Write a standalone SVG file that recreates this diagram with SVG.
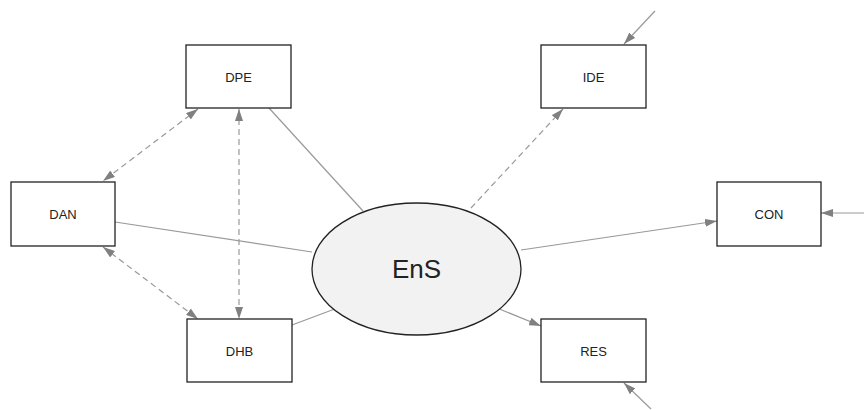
<svg xmlns="http://www.w3.org/2000/svg" width="864" height="410" viewBox="0 0 864 410">
<style>
.box{fill:#fff;stroke:#222;stroke-width:1.3}
.lbl{font-family:"Liberation Sans",Arial,sans-serif;font-size:13px;fill:#222;text-anchor:middle;dominant-baseline:central}
.e{stroke:#999;stroke-width:1.2;fill:none}
.d{stroke-dasharray:6,4}
</style>
<defs>
<marker id="ah" viewBox="0 0 12 8" refX="12" refY="4" markerWidth="12" markerHeight="8" markerUnits="userSpaceOnUse" orient="auto-start-reverse">
<path d="M0,0 L12,4 L0,8 Z" fill="#808080"/>
</marker>
</defs>
<rect width="864" height="410" fill="#fff"/>
<g id="connectors">
<line class="e" x1="269" y1="108" x2="363" y2="211"/>
<line class="e" x1="115" y1="222" x2="312" y2="252"/>
<line class="e" x1="292" y1="325" x2="340" y2="307"/>
<line class="e d" x1="471" y1="208" x2="563" y2="109" marker-end="url(#ah)"/>
<line class="e" x1="521" y1="250" x2="717" y2="221" marker-end="url(#ah)"/>
<line class="e" x1="497" y1="308" x2="541" y2="326" marker-end="url(#ah)"/>
<line class="e" x1="864" y1="213" x2="821" y2="213" marker-end="url(#ah)"/>
<line class="e" x1="655" y1="11" x2="624" y2="44" marker-end="url(#ah)"/>
<line class="e" x1="651" y1="409" x2="624" y2="383" marker-end="url(#ah)"/>
<line class="e d" x1="198" y1="109" x2="103" y2="181" marker-start="url(#ah)" marker-end="url(#ah)"/>
<line class="e d" x1="103" y1="247" x2="198" y2="319" marker-start="url(#ah)" marker-end="url(#ah)"/>
<line class="e d" x1="239" y1="109" x2="239" y2="319" marker-start="url(#ah)" marker-end="url(#ah)"/>
</g>
<g id="DPE"><rect class="box" x="186" y="45" width="105" height="63"/><text class="lbl" x="238.5" y="77">DPE</text></g>
<g id="IDE"><rect class="box" x="541" y="45" width="105" height="63"/><text class="lbl" x="593.5" y="77">IDE</text></g>
<g id="DAN"><rect class="box" x="11" y="182" width="104" height="64"/><text class="lbl" x="63" y="214">DAN</text></g>
<g id="CON"><rect class="box" x="717" y="182" width="104" height="64"/><text class="lbl" x="769" y="214">CON</text></g>
<g id="DHB"><rect class="box" x="187" y="319" width="105" height="63"/><text class="lbl" x="239.5" y="351">DHB</text></g>
<g id="RES"><rect class="box" x="541" y="319" width="105" height="63"/><text class="lbl" x="593.5" y="351">RES</text></g>
<g id="EnS"><ellipse cx="416.5" cy="269" rx="104.5" ry="66" fill="#f2f2f2" stroke="#222" stroke-width="1.3"/><text class="lbl" x="416.5" y="269" style="font-size:26px">EnS</text></g>
</svg>
